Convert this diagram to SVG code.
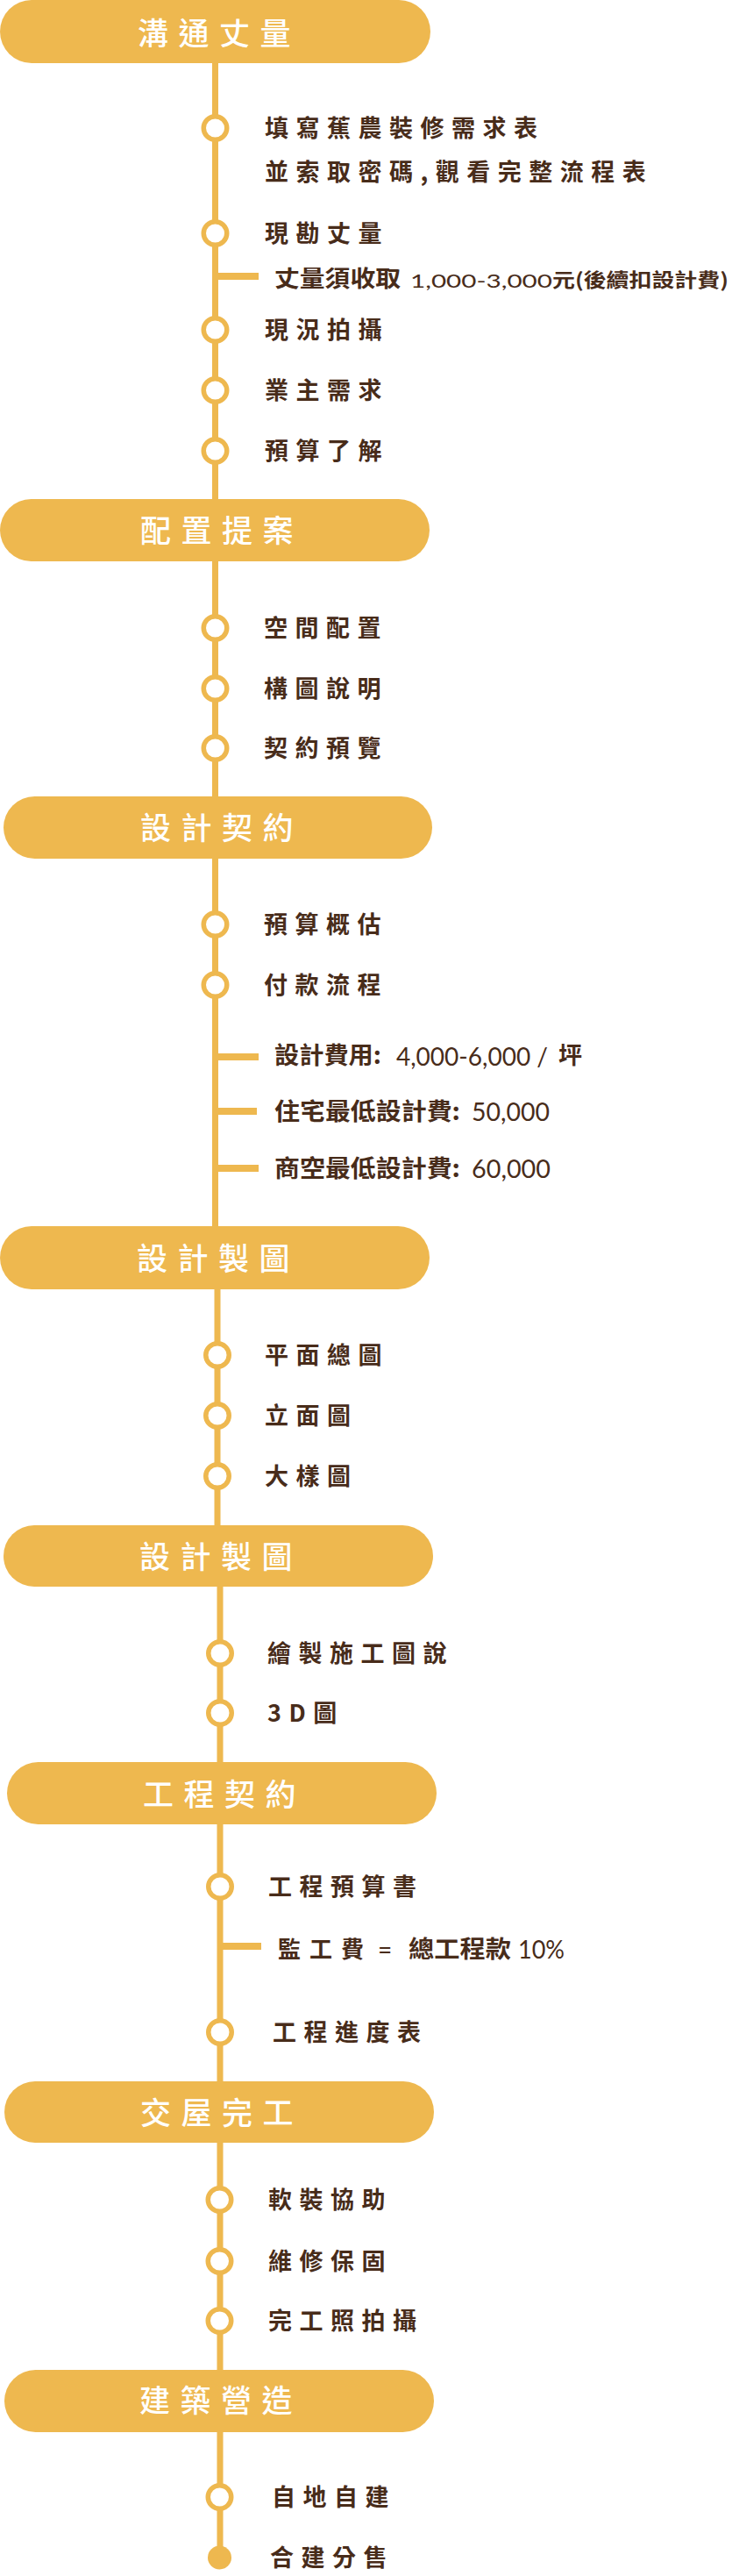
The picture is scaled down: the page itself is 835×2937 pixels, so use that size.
<svg xmlns="http://www.w3.org/2000/svg" width="835" height="2937" viewBox="0 0 835 2937">
<style>
.pill{fill:#EEB84F}
.ttl{font-family:"Noto Sans CJK TC","Noto Sans CJK SC",sans-serif;font-size:35px;font-weight:500;fill:#FFFFFF;letter-spacing:11.5px}
.it{font-family:"Noto Sans CJK TC","Noto Sans CJK SC",sans-serif;font-size:27px;font-weight:700;fill:#482C1A;letter-spacing:8.5px}
.tb{font-family:"Noto Sans CJK TC","Noto Sans CJK SC",sans-serif;font-weight:700;fill:#482C1A}
.num{font-family:Lato,"Liberation Sans",sans-serif;font-weight:400;fill:#482C1A}
.ln{stroke:#EEB84F;stroke-width:7;fill:none}
.tk{stroke:#EEB84F;stroke-width:8;fill:none}
.ring{fill:#FFFFFF;stroke:#EEB84F;stroke-width:5.5}
.dot{fill:#EEB84F}
</style>
<g id="connectors">
<line class="ln" x1="245.5" y1="70" x2="245.5" y2="571"/>
<line class="ln" x1="245.5" y1="638" x2="245.5" y2="910"/>
<line class="ln" x1="245.5" y1="977" x2="245.5" y2="1400"/>
<line class="ln" x1="248" y1="1468" x2="248" y2="1741"/>
<line class="ln" x1="251" y1="1807" x2="251" y2="2011"/>
<line class="ln" x1="251" y1="2078" x2="251" y2="2375"/>
<line class="ln" x1="251" y1="2441" x2="251" y2="2704"/>
<line class="ln" x1="251" y1="2771" x2="251" y2="2910"/>
<line class="tk" x1="245.5" y1="315" x2="295" y2="315"/>
<line class="tk" x1="245.5" y1="1205" x2="295" y2="1205"/>
<line class="tk" x1="245.5" y1="1267" x2="293" y2="1267"/>
<line class="tk" x1="245.5" y1="1332" x2="295" y2="1332"/>
<line class="tk" x1="251" y1="2219" x2="298" y2="2219"/>
</g>
<g id="stage1"><rect class="pill" x="0" y="0" width="491" height="72" rx="36"/><text class="ttl" x="157" y="51">溝通丈量</text></g>
<g id="item1"><circle class="ring" cx="245.5" cy="146" r="13.25"/><text class="it" x="302" y="156">填寫蕉農裝修需求表</text><text class="it" x="302" y="206">並索取密碼,觀看完整流程表</text></g>
<g id="item2"><circle class="ring" cx="245.5" cy="266" r="13.25"/><text class="it" x="302" y="276">現勘丈量</text></g>
<g id="note1">
<text class="tb" x="313" y="327" font-size="26" textLength="144" lengthAdjust="spacingAndGlyphs">丈量須收取</text>
<text class="num" x="468" y="328" font-size="22" textLength="162" lengthAdjust="spacingAndGlyphs">1,000-3,000</text>
<text class="tb" x="630" y="327" font-size="22" textLength="201" lengthAdjust="spacingAndGlyphs">元(後續扣設計費)</text>
</g>
<g id="item3"><circle class="ring" cx="245.5" cy="376" r="13.25"/><text class="it" x="302" y="386">現況拍攝</text></g>
<g id="item4"><circle class="ring" cx="245.5" cy="445" r="13.25"/><text class="it" x="302" y="455">業主需求</text></g>
<g id="item5"><circle class="ring" cx="245.5" cy="514" r="13.25"/><text class="it" x="302" y="524">預算了解</text></g>
<g id="stage2"><rect class="pill" x="0" y="569" width="490" height="71" rx="35.5"/><text class="ttl" x="160" y="618">配置提案</text></g>
<g id="item6"><circle class="ring" cx="245.5" cy="716" r="13.25"/><text class="it" x="301" y="726">空間配置</text></g>
<g id="item7"><circle class="ring" cx="245.5" cy="785" r="13.25"/><text class="it" x="301" y="795">構圖說明</text></g>
<g id="item8"><circle class="ring" cx="245.5" cy="853" r="13.25"/><text class="it" x="301" y="863">契約預覽</text></g>
<g id="stage3"><rect class="pill" x="4" y="908" width="489" height="71" rx="35.5"/><text class="ttl" x="160" y="957">設計契約</text></g>
<g id="item9"><circle class="ring" cx="245.5" cy="1054" r="13.25"/><text class="it" x="301" y="1064">預算概估</text></g>
<g id="item10"><circle class="ring" cx="245.5" cy="1123" r="13.25"/><text class="it" x="301" y="1133">付款流程</text></g>
<g id="note2">
<text class="tb" x="313" y="1213" font-size="27" textLength="122" lengthAdjust="spacingAndGlyphs">設計費用:</text>
<text class="num" x="452" y="1215" font-size="28" textLength="173" lengthAdjust="spacingAndGlyphs">4,000-6,000 /</text>
<text class="tb" x="637" y="1213" font-size="27">坪</text>
</g>
<g id="note3">
<text class="tb" x="313" y="1277" font-size="27" textLength="212" lengthAdjust="spacingAndGlyphs">住宅最低設計費:</text>
<text class="num" x="538" y="1278" font-size="29" textLength="89" lengthAdjust="spacingAndGlyphs">50,000</text>
</g>
<g id="note4">
<text class="tb" x="313" y="1342" font-size="27" textLength="212" lengthAdjust="spacingAndGlyphs">商空最低設計費:</text>
<text class="num" x="538" y="1343" font-size="29" textLength="90" lengthAdjust="spacingAndGlyphs">60,000</text>
</g>
<g id="stage4"><rect class="pill" x="0" y="1398" width="490" height="72" rx="36"/><text class="ttl" x="156" y="1448">設計製圖</text></g>
<g id="item11"><circle class="ring" cx="248" cy="1545" r="13.25"/><text class="it" x="302" y="1555">平面總圖</text></g>
<g id="item12"><circle class="ring" cx="248" cy="1614" r="13.25"/><text class="it" x="302" y="1624">立面圖</text></g>
<g id="item13"><circle class="ring" cx="248" cy="1683" r="13.25"/><text class="it" x="302" y="1693">大樣圖</text></g>
<g id="stage5"><rect class="pill" x="4" y="1739" width="490" height="70" rx="35"/><text class="ttl" x="159" y="1788">設計製圖</text></g>
<g id="item14"><circle class="ring" cx="251" cy="1885" r="13.25"/><text class="it" x="305" y="1895">繪製施工圖說</text></g>
<g id="item15"><circle class="ring" cx="251" cy="1953" r="13.25"/><text class="it" x="305" y="1963">3D圖</text></g>
<g id="stage6"><rect class="pill" x="8" y="2009" width="490" height="71" rx="35.5"/><text class="ttl" x="163" y="2059">工程契約</text></g>
<g id="item16"><circle class="ring" cx="251" cy="2151" r="13.25"/><text class="it" x="306" y="2161">工程預算書</text></g>
<g id="note5">
<text class="tb" x="317" y="2232" font-size="26" letter-spacing="10">監工費</text>
<text class="num" x="431" y="2233" font-size="28">=</text>
<text class="tb" x="466" y="2232" font-size="27" textLength="117" lengthAdjust="spacingAndGlyphs">總工程款</text>
<text class="num" x="591" y="2233" font-size="28" textLength="53" lengthAdjust="spacingAndGlyphs">10%</text>
</g>
<g id="item17"><circle class="ring" cx="251" cy="2317" r="13.25"/><text class="it" x="311" y="2327">工程進度表</text></g>
<g id="stage7"><rect class="pill" x="5" y="2373" width="490" height="70" rx="35"/><text class="ttl" x="160" y="2422">交屋完工</text></g>
<g id="item18"><circle class="ring" cx="250.5" cy="2508" r="13.25"/><text class="it" x="306" y="2518">軟裝協助</text></g>
<g id="item19"><circle class="ring" cx="250.5" cy="2578" r="13.25"/><text class="it" x="306" y="2588">維修保固</text></g>
<g id="item20"><circle class="ring" cx="250.5" cy="2646" r="13.25"/><text class="it" x="306" y="2656">完工照拍攝</text></g>
<g id="stage8"><rect class="pill" x="5" y="2702" width="490" height="71" rx="35.5"/><text class="ttl" x="159" y="2750">建築營造</text></g>
<g id="item21"><circle class="ring" cx="250.5" cy="2847" r="13.25"/><text class="it" x="310" y="2857">自地自建</text></g>
<g id="item22"><circle class="dot" cx="250.5" cy="2916" r="13.5"/><text class="it" x="308" y="2926">合建分售</text></g>
</svg>
